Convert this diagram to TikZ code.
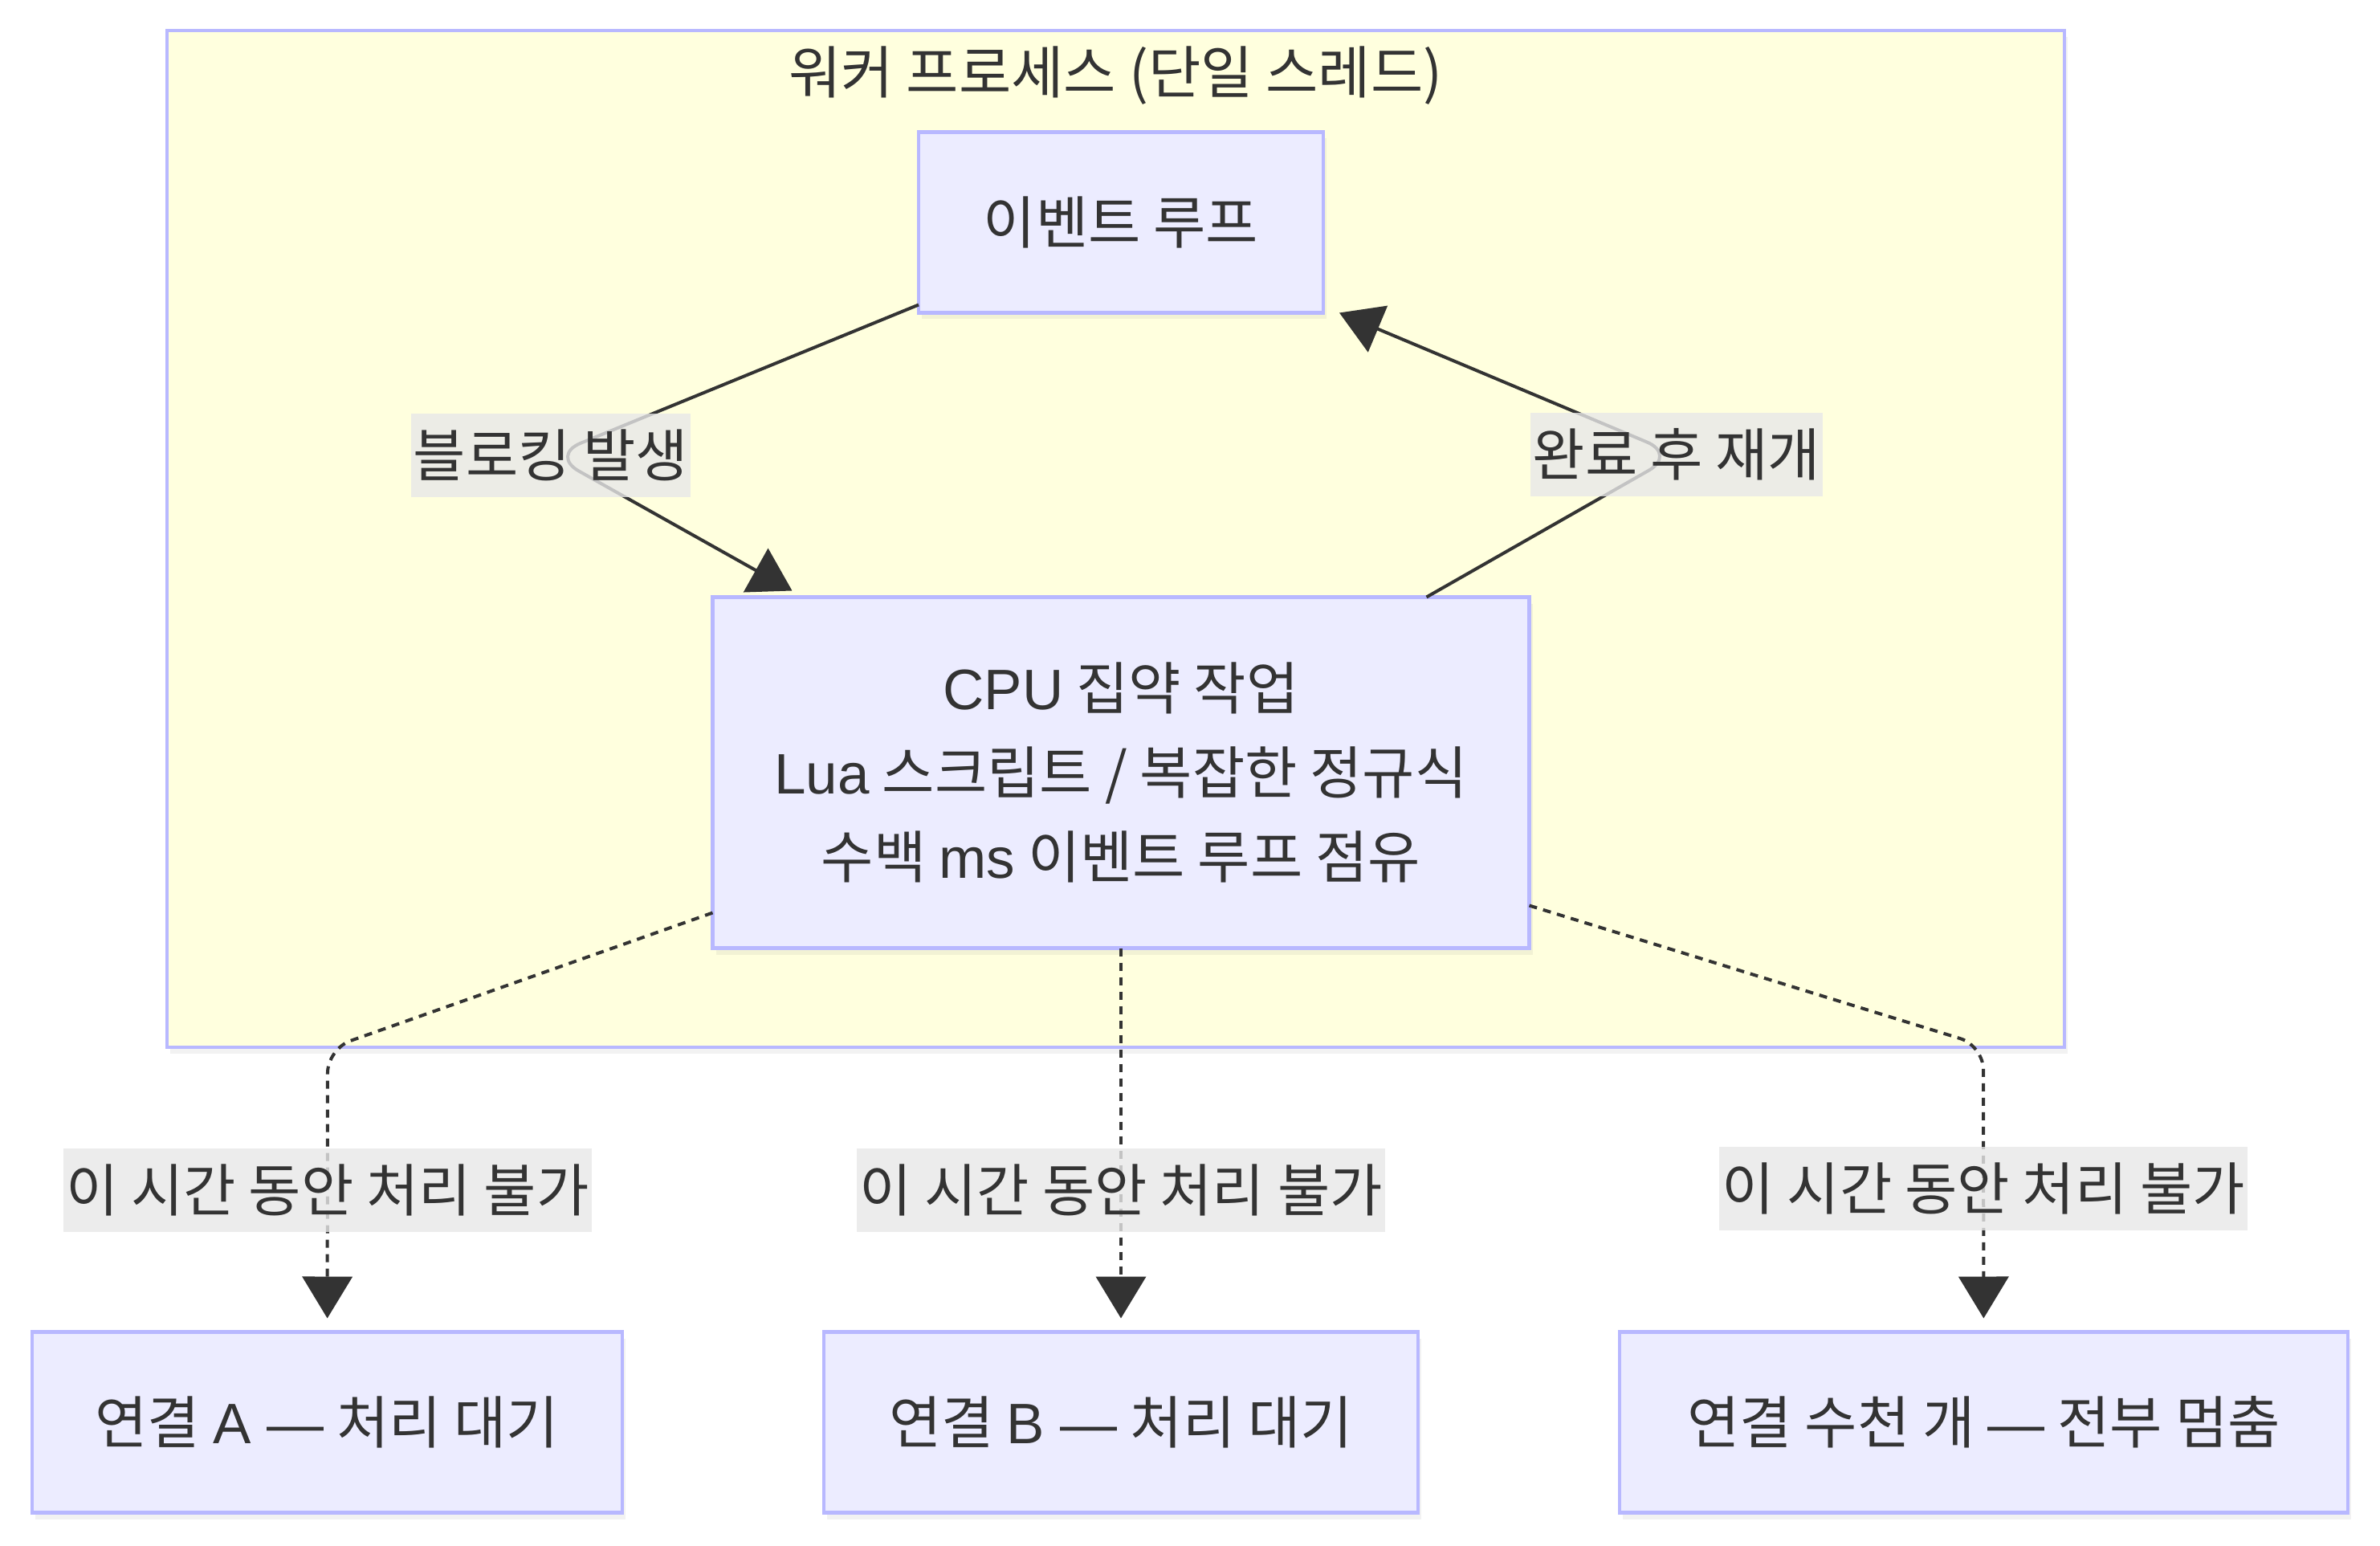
\documentclass[tikz,border=0pt]{standalone}
\usepackage{fontspec}
\setmainfont{Noto Sans CJK KR}
\newfontfamily\enfont{Liberation Sans}
\newcommand{\eng}[1]{{\enfont #1}}
\usepackage{tikz}
\usetikzlibrary{arrows.meta, calc, positioning, shadows}
\definecolor{nodefill}{HTML}{ECECFF}
\definecolor{nodeline}{HTML}{B8B8FF}
\definecolor{clusterfill}{HTML}{FFFFDE}
\definecolor{textgray}{HTML}{333333}
\definecolor{labelgray}{HTML}{E8E8E8}
\tikzstyle{block} = [rectangle, draw=nodeline, fill=nodefill, line width=2.4pt, outer sep=0pt, text centered, drop shadow={shadow xshift=2pt, shadow yshift=-4pt, opacity=0.1}]
\tikzstyle{cluster} = [rectangle, draw=nodeline, fill=clusterfill, line width=2.4pt, outer sep=0pt, drop shadow={shadow xshift=2pt, shadow yshift=-4pt, opacity=0.1}]
\tikzstyle{arrow} = [line width=2pt, draw=textgray, -{Triangle[length=26pt, width=31pt]}]
\tikzstyle{dotarrow} = [arrow, dash pattern=on 5pt off 4pt]
\tikzstyle{elabel} = [sharp corners, fill=labelgray, fill opacity=0.8, text opacity=1, inner xsep=1.5pt, inner ysep=0pt, minimum height=52pt]

\begin{document}
\begin{tikzpicture}[font=\fontsize{35.5pt}{52.5pt}\selectfont, text=textgray, node distance=125.5pt]
\path [use as bounding box, fill=white] (0,0) rectangle (1482pt,-962.5pt);
\node (worker) [cluster, minimum width=1181.5pt, minimum height=633pt] at (694.75pt,-335.5pt) {};
\node (title) at ([yshift=-28pt]worker.north) {워커 프로세스 (단일 스레드)};
\node (loop) [block, minimum width=252pt, minimum height=112.5pt] at (698pt,-138.5pt) {이벤트 루프};
\node (cpu) [block, align=center, minimum width=508.5pt, minimum height=218.5pt, below=177pt of loop] {\eng{CPU} 집약 작업\\\eng{Lua} 스크립트 / 복잡한 정규식\\수백 \eng{ms} 이벤트 루프 점유};
\node (connB) [block, minimum width=370pt, minimum height=112.5pt, below=239pt of cpu] {연결 \eng{B —} 처리 대기};
\node (connA) [block, minimum width=367.5pt, minimum height=112.5pt, left=of connB] {연결 \eng{A —} 처리 대기};
\node (connC) [block, minimum width=453.5pt, minimum height=112.5pt, right=of connB] {연결 수천 개 \eng{—} 전부 멈춤};
\coordinate (blockbend) at (343pt,-283.5pt);
\coordinate (resumebend) at (1044pt,-283pt);
\coordinate (bendA) at (204pt,-653pt);
\coordinate (bendC) at (1235pt,-651pt);
\draw [arrow, rounded corners=20pt] ([yshift=5pt]loop.south west) -- (blockbend) -- ([xshift=49.5pt,yshift=4pt]cpu.north west);
\draw [arrow, rounded corners=20pt] ([xshift=-64pt]cpu.north east) -- (resumebend) -- ([xshift=10pt]loop.south east);
\node (block) [elabel] at (blockbend) {블로킹 발생};
\node (resume) [elabel] at (resumebend) {완료 후 재개};
\draw [dotarrow, rounded corners=15pt, shorten >=8.5pt] ([yshift=22pt]cpu.south west) -- (bendA) -- node (waitA) [elabel] {이 시간 동안 처리 불가} (connA);
\draw [dotarrow, shorten >=8.5pt] (cpu.south) -- node (waitB) [elabel, pos=0.63] {이 시간 동안 처리 불가} (connB);
\draw [dotarrow, rounded corners=15pt, shorten >=8.5pt] ([yshift=26.5pt]cpu.south east) -- (bendC) -- node (waitC) [elabel] {이 시간 동안 처리 불가} (connC);
\end{tikzpicture}
\end{document}
